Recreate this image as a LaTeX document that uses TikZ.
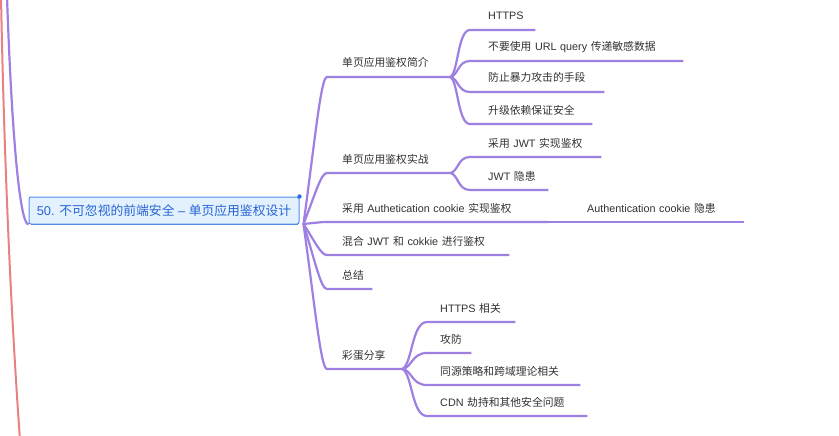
\documentclass[tikz,border=0pt]{standalone}
\usepackage{fontspec}
\setmainfont{Noto Sans CJK SC}
\newfontfamily\latinfont{Liberation Sans}
\newcommand\en[1]{{\latinfont #1}}
\usetikzlibrary{calc}

\definecolor{branch}{RGB}{158,128,226}
\definecolor{outerline}{RGB}{232,130,130}
\definecolor{ink}{RGB}{50,50,50}
\definecolor{rootfill}{RGB}{226,241,253}
\definecolor{rootline}{RGB}{86,140,232}
\definecolor{roottext}{RGB}{40,100,212}
\definecolor{rootdot}{RGB}{36,110,230}

\begin{document}
\begin{tikzpicture}[x=1pt,y=-1pt,
  line/.style={draw=branch, line width=2.2pt},
  redline/.style={draw=outerline, line width=2pt},
  rootbox/.style={draw=rootline, fill=rootfill, line width=1pt, rounded corners=2pt,
    minimum width=270pt, minimum height=27pt, inner sep=0pt, text=roottext,
    font=\fontsize{12.8}{15}\selectfont},
  topic/.style={anchor=south west, inner xsep=0pt, inner ysep=7.8pt,
    text height=8pt, text depth=2pt, align=left, text width=#1,
    text=ink, font=\fontsize{10.8}{13}\selectfont},
  rootlink/.style={to path={let \p1=(\tikztostart), \p2=(\tikztotarget) in
    .. controls ({\x1+12pt},{\y1+0.6*(\y2-\y1)}) and ({\x2-6pt},\y2) .. (\tikztotarget)}},
  sublink/.style={to path={let \p1=(\tikztostart), \p2=(\tikztotarget) in
    .. controls ({\x1+0.4*(\x2-\x1)},{\y1+0.1*(\y2-\y1)}) and ({\x1+0.38*(\x2-\x1)},\y2) .. (\tikztotarget)}}
]
\clip (0,0) rectangle (839,436);
\fill[white] (0,0) rectangle (839,436);

% sibling branch of the parent map, running off the left edge
\draw[redline] (1,-3) .. controls (4,150) and (10,300) .. (20,440);

% central topic
\node[rootbox] (root) at (164,210.5) {\en{50. }不可忽视的前端安全\en{ – }单页应用鉴权设计};
\draw[rootline, line width=1.6pt] ([xshift=2pt]root.south west) -- ([xshift=-2pt]root.south east);
\fill[rootdot] (root.north east) circle (2.2pt);

% link up to the parent topic (off the top edge)
\coordinate (upper) at (7,-3);
\draw[line] (upper) .. controls (12,140) and (20,224) .. (root.south west);

\coordinate (hub) at ([xshift=4pt,yshift=0.5pt]root.south east);

% first level
\node[topic=108pt] (a1) at (342,77)  {单页应用鉴权简介};
\node[topic=108pt] (a2) at (342,173) {单页应用鉴权实战};
\node[topic=206pt] (a3) at (342,222) {采用\en{ Authetication cookie }实现鉴权};
\node[topic=167pt] (a4) at (342,255) {混合\en{ JWT }和\en{ cokkie }进行鉴权};
\node[topic=30pt]  (a5) at (342,289) {总结};
\node[topic=60pt]  (a6) at (342,369) {彩蛋分享};

% second level
\node[topic=47pt]  (b1) at (488,30)  {\en{HTTPS}};
\node[topic=195pt] (b2) at (488,61)  {不要使用\en{ URL query }传递敏感数据};
\node[topic=116pt] (b3) at (488,92)  {防止暴力攻击的手段};
\node[topic=104pt] (b4) at (488,124) {升级依赖保证安全};
\node[topic=113pt] (b5) at (488,157) {采用\en{ JWT }实现鉴权};
\node[topic=60pt]  (b6) at (488,190) {\en{JWT }隐患};
\node[topic=157pt] (b7) at (587,222) {\en{Authentication cookie }隐患};

\node[topic=75pt]  (c1) at (440,322) {\en{HTTPS }相关};
\node[topic=31pt]  (c2) at (440,353) {攻防};
\node[topic=140pt] (c3) at (440,385) {同源策略和跨域理论相关};
\node[topic=147pt] (c4) at (440,416) {\en{CDN }劫持和其他安全问题};

% connectors with underlines
\foreach \n in {a1,a2,a3,a4,a5,a6}
  \draw[line] (hub) to[rootlink] ([xshift=-15pt]\n.south west) -- (\n.south east);

\foreach \n in {b1,b2,b3,b4}
  \draw[line] (a1.south east) to[sublink] ([xshift=-18pt]\n.south west) -- (\n.south east);
\foreach \n in {b5,b6}
  \draw[line] (a2.south east) to[sublink] ([xshift=-18pt]\n.south west) -- (\n.south east);
\draw[line] (a3.south east) -- ([xshift=-19pt]b7.south west) -- (b7.south east);

\foreach \n in {c1,c2,c3,c4}
  \draw[line] (a6.south east) to[sublink] ([xshift=-13pt]\n.south west) -- (\n.south east);
\end{tikzpicture}
\end{document}
